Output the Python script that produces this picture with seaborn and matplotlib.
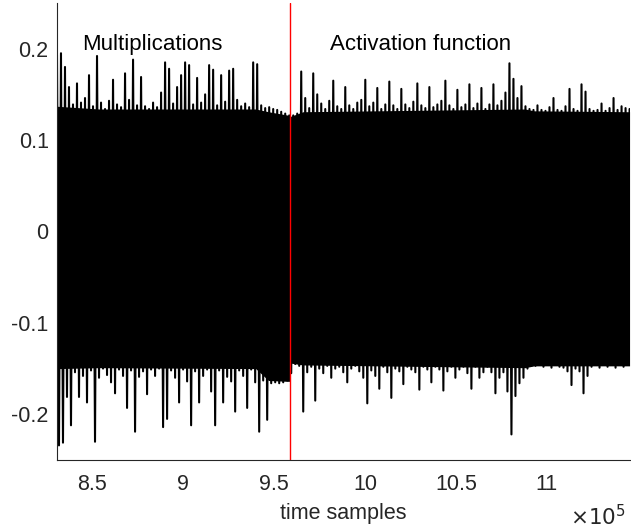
import matplotlib
matplotlib.use("Agg")
import matplotlib.pyplot as plt
import seaborn as sns
import numpy as np
from matplotlib.ticker import FuncFormatter

# trace sampled every 2200 time samples, starting at 830800
sample_start = 830800
sample_step = 2200

# local maxima of the trace
upper_peaks = [
    0.193, 0.195, 0.180, 0.158, 0.139, 0.162, 0.141, 0.146, 0.171, 0.137, 0.192, 0.141,
    0.134, 0.143, 0.166, 0.139, 0.136, 0.173, 0.144, 0.188, 0.138, 0.169, 0.137, 0.134,
    0.141, 0.136, 0.152, 0.185, 0.178, 0.140, 0.158, 0.171, 0.185, 0.182, 0.139, 0.168,
    0.141, 0.150, 0.182, 0.177, 0.138, 0.171, 0.142, 0.176, 0.178, 0.144, 0.137, 0.140,
    0.136, 0.185, 0.183, 0.138, 0.135, 0.136, 0.134, 0.133, 0.131, 0.129, 0.127, 0.127,
    0.129, 0.175, 0.146, 0.135, 0.173, 0.150, 0.140, 0.134, 0.143, 0.165, 0.137, 0.134,
    0.158, 0.138, 0.134, 0.141, 0.144, 0.166, 0.137, 0.141, 0.157, 0.134, 0.139, 0.164,
    0.138, 0.134, 0.156, 0.139, 0.135, 0.142, 0.162, 0.138, 0.135, 0.158, 0.136, 0.139,
    0.143, 0.165, 0.138, 0.134, 0.155, 0.136, 0.139, 0.161, 0.135, 0.140, 0.157, 0.134,
    0.139, 0.161, 0.138, 0.143, 0.152, 0.184, 0.167, 0.146, 0.159, 0.137, 0.134, 0.133,
    0.138, 0.133, 0.132, 0.136, 0.146, 0.133, 0.132, 0.137, 0.156, 0.134, 0.132, 0.161,
    0.153, 0.134, 0.132, 0.133, 0.140, 0.132, 0.135, 0.146, 0.133, 0.137, 0.135, 0.134,
]

# local minima of the trace
lower_peaks = [
    -0.234, -0.231, -0.181, -0.212, -0.154, -0.181, -0.158, -0.187, -0.152, -0.230, -0.160, -0.150,
    -0.157, -0.165, -0.177, -0.151, -0.158, -0.193, -0.152, -0.219, -0.159, -0.153, -0.178, -0.151,
    -0.158, -0.150, -0.214, -0.205, -0.152, -0.160, -0.187, -0.151, -0.164, -0.212, -0.153, -0.187,
    -0.158, -0.151, -0.175, -0.212, -0.152, -0.187, -0.159, -0.164, -0.197, -0.152, -0.158, -0.193,
    -0.151, -0.165, -0.219, -0.163, -0.206, -0.166, -0.165, -0.166, -0.165, -0.163, -0.155, -0.145,
    -0.147, -0.197, -0.154, -0.148, -0.185, -0.150, -0.155, -0.147, -0.160, -0.150, -0.148, -0.154,
    -0.165, -0.150, -0.147, -0.153, -0.160, -0.188, -0.152, -0.158, -0.172, -0.148, -0.154, -0.182,
    -0.150, -0.153, -0.167, -0.148, -0.151, -0.154, -0.173, -0.148, -0.151, -0.165, -0.148, -0.151,
    -0.174, -0.153, -0.148, -0.160, -0.151, -0.148, -0.155, -0.172, -0.148, -0.160, -0.154, -0.148,
    -0.154, -0.177, -0.160, -0.154, -0.175, -0.222, -0.180, -0.166, -0.160, -0.150, -0.147, -0.147,
    -0.146, -0.148, -0.146, -0.149, -0.146, -0.148, -0.149, -0.153, -0.168, -0.150, -0.153, -0.177,
    -0.158, -0.148, -0.146, -0.149, -0.146, -0.148, -0.146, -0.149, -0.146, -0.148, -0.146, -0.149,
]

# dense body of the trace (where it looks solid black)
body_samples = [830800, 854000, 940000, 947000, 958500, 959200, 966000, 1088000, 1093000, 1145400]
body_upper = [0.137, 0.134, 0.134, 0.131, 0.127, 0.126, 0.131, 0.134, 0.132, 0.131]
body_lower = [-0.150, -0.149, -0.150, -0.163, -0.164, -0.144, -0.146, -0.149, -0.147, -0.147]

split_sample = 958800
phase_labels = ["Multiplications", "Activation function"]
phase_label_x = [844800, 980600]

x_ticks = [850000, 900000, 950000, 1000000, 1050000, 1100000]
y_ticks = [-0.2, -0.1, 0, 0.1, 0.2]
y_tick_labels = ["-0.2", "-0.1", "0", "0.1", "0.2"]

sns.set_style("white")
plt.rcParams["font.family"] = ["Liberation Sans", "DejaVu Sans"]

xs = sample_start + sample_step * np.arange(len(upper_peaks))
trace_x = np.column_stack([xs, xs + sample_step / 2]).ravel()
trace_y = np.column_stack([upper_peaks, lower_peaks]).ravel()

fig = plt.figure(figsize=(6.31, 5.29), dpi=100)
ax = fig.add_axes([0.0903, 0.1304, 0.908, 0.864])

ax.fill_between(body_samples, body_lower, body_upper, color="black", lw=0, zorder=1)
sns.lineplot(x=trace_x, y=trace_y, ax=ax, color="black", linewidth=1.5,
             estimator=None, sort=False, zorder=2)
ax.axvline(split_sample, color="#ff0000", linewidth=1.0, zorder=3)

for label, lx in zip(phase_labels, phase_label_x):
    ax.text(lx, 0.205, label, fontsize=16, color="#000000", va="center", ha="left")

ax.set_xlim(830800, 1145600)
ax.set_ylim(-0.25, 0.25)
ax.set_xticks(x_ticks)
ax.xaxis.set_major_formatter(FuncFormatter(lambda v, p: f"{v / 1e5:g}"))
ax.set_yticks(y_ticks)
ax.set_yticklabels(y_tick_labels)

for side in ["top", "right"]:
    ax.spines[side].set_visible(False)
for side in ["left", "bottom"]:
    ax.spines[side].set_color("#262626")
    ax.spines[side].set_linewidth(0.8)
ax.tick_params(direction="in", length=4, width=0.8, color="#262626",
               labelsize=15.5, labelcolor="#262626")
ax.tick_params(axis="x", pad=10)
ax.tick_params(axis="y", pad=6)

ax.set_xlabel("time samples", fontsize=15.5, color="#262626", labelpad=6)
ax.text(0.993, -0.125, r"$\times10^5$", transform=ax.transAxes, fontsize=15.5,
        color="#262626", ha="right", va="center", math_fontfamily="dejavusans")

fig.savefig("out.png", dpi=100)
